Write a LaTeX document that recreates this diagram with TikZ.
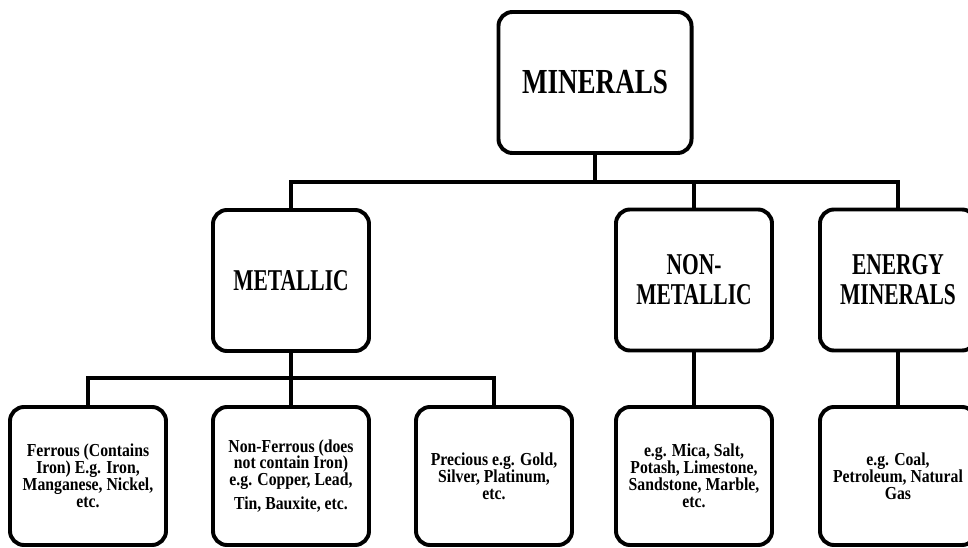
\documentclass[tikz,border=0pt]{standalone}
\usepackage{fontspec}
\setmainfont{Liberation Serif}[BoldFont={Liberation Serif Bold}, BoldFeatures={FakeStretch=0.86}]
\newfontfamily\titlefont{Liberation Serif Bold}[FakeStretch=0.77]
\newfontfamily\headfont{Liberation Serif Bold}[FakeStretch=0.71]
\usetikzlibrary{positioning}

\begin{document}
\begin{tikzpicture}[
    x=0.025cm,
    y=-0.025cm,
    every node/.style={text=black},
    box/.style={draw=black, fill=white, line width=2.8pt, rounded corners=10pt, align=center, inner sep=0pt},
    topbox/.style={box, minimum width=4.825cm, minimum height=3.525cm, font=\titlefont\fontsize{25}{27}\selectfont},
    midbox/.style={box, minimum width=3.9cm, minimum height=3.525cm, font=\headfont\fontsize{21.5}{21.5}\selectfont},
    lowbox/.style={box, minimum width=3.9cm, minimum height=3.45cm, font=\bfseries\fontsize{13}{12}\selectfont},
    link/.style={draw=black, line width=2.6pt}
]

\useasboundingbox (0,0) rectangle (968,547);
\clip (0,0) rectangle (968,547);
\fill[white] (0,0) rectangle (968,547);

\node[topbox] (minerals) at (595,82.5) {MINERALS};

\node[midbox] (metallic) at (291,280.5) {METALLIC};
\node[midbox] (nonmetallic) at (694,280) {NON-\\METALLIC};
\node[midbox] (energy) at (898,280) {ENERGY\\MINERALS};

\node[lowbox] (ferrous) at (88,476)
{Ferrous (Contains\\Iron) E.g. Iron,\\Manganese, Nickel,\\etc.};
\node[lowbox] (nonferrous) at (291,476)
{Non-Ferrous (does\\not contain Iron)\\e.g. Copper, Lead,\\[5pt]Tin, Bauxite, etc.};
\node[lowbox] (precious) at (494,476)
{Precious e.g. Gold,\\Silver, Platinum,\\etc.};
\node[lowbox] (nonmetalex) at (694,476)
{e.g. Mica, Salt,\\Potash, Limestone,\\Sandstone, Marble,\\etc.};
\node[lowbox] (energyex) at (898,476)
{e.g. Coal,\\Petroleum, Natural\\Gas};

\coordinate (topbus) at (595,182);
\coordinate (lowbus) at (291,378);

\draw[link] (minerals.south) -- (topbus);
\draw[link] (metallic.north) |- (topbus) -| (energy.north);
\draw[link] (nonmetallic.north) -- (nonmetallic.north |- topbus);
\draw[link] (metallic.south) -- (nonferrous.north);
\draw[link] (ferrous.north) |- (lowbus) -| (precious.north);
\draw[link] (nonmetallic.south) -- (nonmetalex.north);
\draw[link] (energy.south) -- (energyex.north);

\end{tikzpicture}
\end{document}
